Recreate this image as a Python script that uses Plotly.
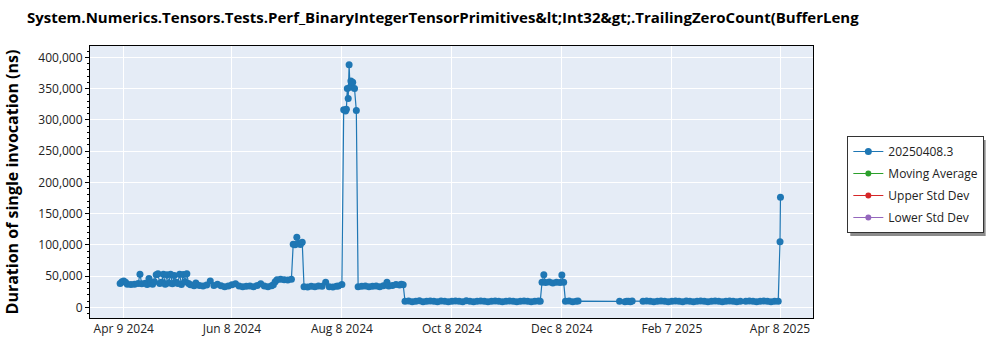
import plotly.graph_objects as go

TITLE = "System.Numerics.Tensors.Tests.Perf_BinaryIntegerTensorPrimitives&amp;lt;Int32&amp;gt;.TrailingZeroCount(BufferLeng"
Y_TITLE = "Duration of single invocation (ns)"
SERIES_NAME = "20250408.3"
EXTRA_SERIES = ["Moving Average", "Upper Std Dev", "Lower Std Dev"]

tick_dates = ["2024-04-09", "2024-06-08", "2024-08-08", "2024-10-08",
              "2024-12-08", "2025-02-07", "2025-04-08"]
tick_labels = ["Apr 9 2024", "Jun 8 2024", "Aug 8 2024", "Oct 8 2024",
               "Dec 8 2024", "Feb 7 2025", "Apr 8 2025"]

# Spring 2024
dates_spring = ["2024-04-07", "2024-04-08", "2024-04-09", "2024-04-10", "2024-04-11",
                "2024-04-13", "2024-04-15", "2024-04-17", "2024-04-18", "2024-04-19",
                "2024-04-21", "2024-04-22", "2024-04-23", "2024-04-24", "2024-04-25",
                "2024-04-26", "2024-04-27", "2024-04-28", "2024-04-29", "2024-04-30",
                "2024-05-01", "2024-05-02", "2024-05-03", "2024-05-04", "2024-05-05",
                "2024-05-06", "2024-05-07", "2024-05-08", "2024-05-09", "2024-05-10",
                "2024-05-11", "2024-05-12", "2024-05-13", "2024-05-14", "2024-05-15",
                "2024-05-16", "2024-05-18", "2024-05-19", "2024-05-21", "2024-05-23",
                "2024-05-25", "2024-05-27", "2024-05-29", "2024-05-31"]
values_spring = [38000, 41000, 42000, 40000, 37000,
                 36500, 37000, 38000, 53000, 37500,
                 38500, 36500, 46000, 39000, 37000,
                 41000, 52000, 53500, 38000, 40000,
                 53000, 37000, 52000, 39000, 53000,
                 37500, 51000, 40000, 38000, 53000,
                 36500, 52500, 41000, 53500, 38000,
                 36000, 34500, 39000, 35000, 34000,
                 35500, 42000, 35000, 37000]

# Summer 2024
dates_summer = ["2024-06-02", "2024-06-04", "2024-06-06", "2024-06-08", "2024-06-10",
                "2024-06-12", "2024-06-14", "2024-06-16", "2024-06-18", "2024-06-20",
                "2024-06-22", "2024-06-24", "2024-06-26", "2024-06-28", "2024-06-30",
                "2024-07-01", "2024-07-02", "2024-07-03", "2024-07-05", "2024-07-07",
                "2024-07-09", "2024-07-11", "2024-07-12", "2024-07-13", "2024-07-14",
                "2024-07-15", "2024-07-16", "2024-07-17", "2024-07-18", "2024-07-20",
                "2024-07-22", "2024-07-24", "2024-07-26", "2024-07-28", "2024-07-30",
                "2024-08-01", "2024-08-03", "2024-08-05", "2024-08-06", "2024-08-08",
                "2024-08-09", "2024-08-10", "2024-08-10 12:00", "2024-08-11",
                "2024-08-11 12:00", "2024-08-12", "2024-08-12 12:00", "2024-08-13",
                "2024-08-13 12:00", "2024-08-14", "2024-08-15", "2024-08-16",
                "2024-08-17", "2024-08-19", "2024-08-21", "2024-08-23", "2024-08-25",
                "2024-08-27", "2024-08-29", "2024-08-31", "2024-09-02", "2024-09-03",
                "2024-09-05", "2024-09-07", "2024-09-09", "2024-09-10", "2024-09-11"]
values_summer = [34500, 33000, 34000, 36000, 37500,
                 34000, 33000, 33500, 34000, 33000,
                 35000, 37500, 34000, 33000, 34500,
                 36000, 41000, 44000, 45000, 44000,
                 43500, 45000, 101000, 100000, 112000,
                 102000, 100500, 104000, 33000, 32500,
                 33500, 33000, 34000, 33500, 40000,
                 33000, 32500, 33500, 34000, 36500,
                 316000, 314000, 317000, 350000,
                 334000, 388000, 352000, 362000,
                 355000, 360000, 350000, 315000,
                 33000, 33500, 34000, 33000, 33500,
                 34000, 33000, 34500, 40000, 34000,
                 35000, 36500, 35500, 37000, 36000]

# Autumn 2024
dates_autumn = ["2024-09-12", "2024-09-14", "2024-09-16", "2024-09-18", "2024-09-20",
                "2024-09-22", "2024-09-24", "2024-09-26", "2024-09-28", "2024-09-30",
                "2024-10-02", "2024-10-04", "2024-10-06", "2024-10-08", "2024-10-10",
                "2024-10-12", "2024-10-14", "2024-10-16", "2024-10-18", "2024-10-20",
                "2024-10-22", "2024-10-24", "2024-10-26", "2024-10-28", "2024-10-30",
                "2024-11-01", "2024-11-03", "2024-11-05", "2024-11-07", "2024-11-09",
                "2024-11-11", "2024-11-13", "2024-11-15", "2024-11-17", "2024-11-19",
                "2024-11-21", "2024-11-23", "2024-11-25", "2024-11-26", "2024-11-27",
                "2024-11-28", "2024-11-29", "2024-12-01", "2024-12-03", "2024-12-05",
                "2024-12-07", "2024-12-08", "2024-12-09", "2024-12-10", "2024-12-12",
                "2024-12-14", "2024-12-16", "2024-12-17"]
values_autumn = [9500, 10000, 9000, 9500, 10500,
                 9000, 9500, 10000, 9500, 9000,
                 10000, 9500, 9000, 9500, 10000,
                 9500, 9000, 10500, 9500, 9000,
                 9500, 10000, 9500, 9000, 9500,
                 10000, 9500, 9000, 9500, 10000,
                 9500, 9000, 9500, 10000, 9500,
                 9000, 9500, 10000, 9500, 40000,
                 52000, 39500, 40500, 39000, 40000,
                 39500, 51500, 40000, 9500, 10000,
                 9000, 9500, 10000]

# Winter / spring 2025
dates_winter = ["2025-01-09", "2025-01-12", "2025-01-13", "2025-01-14", "2025-01-15",
                "2025-01-16", "2025-01-22", "2025-01-24", "2025-01-26", "2025-01-28",
                "2025-01-30", "2025-02-01", "2025-02-03", "2025-02-05", "2025-02-07",
                "2025-02-09", "2025-02-11", "2025-02-13", "2025-02-15", "2025-02-17",
                "2025-02-19", "2025-02-21", "2025-02-23", "2025-02-25", "2025-02-27",
                "2025-03-01", "2025-03-03", "2025-03-05", "2025-03-07", "2025-03-09",
                "2025-03-11", "2025-03-13", "2025-03-15", "2025-03-17", "2025-03-20",
                "2025-03-22", "2025-03-24", "2025-03-26", "2025-03-28", "2025-03-30",
                "2025-04-01", "2025-04-03", "2025-04-05", "2025-04-07", "2025-04-08",
                "2025-04-08 06:00"]
values_winter = [9500, 9000, 9800, 9500, 9000,
                 10000, 9500, 10000, 9500, 9000,
                 9500, 10000, 9500, 9000, 9500,
                 10000, 9500, 9000, 10000, 9500,
                 9000, 9500, 10000, 9500, 9000,
                 9500, 10000, 9500, 9000, 9500,
                 10000, 9500, 9000, 9500, 9500,
                 10000, 9500, 9000, 9500, 10000,
                 9500, 9000, 9500, 9600, 105000,
                 176000]

x_all = dates_spring + dates_summer + dates_autumn + dates_winter
y_all = values_spring + values_summer + values_autumn + values_winter

FONT = "Open Sans, Noto Sans, sans-serif"
colors = ["#1f77b4", "#2ca02c", "#d62728", "#9467bd"]

fig = go.Figure()
fig.add_trace(go.Scatter(
    x=x_all, y=y_all, mode="lines+markers", name=SERIES_NAME,
    line=dict(color=colors[0], width=1.2),
    marker=dict(color=colors[0], size=7),
    legendgroup="a",
))
for i, nm in enumerate(EXTRA_SERIES):
    fig.add_trace(go.Scatter(
        x=[None], y=[None], mode="lines+markers", name=nm,
        line=dict(color=colors[i + 1], width=1.2),
        marker=dict(color=colors[i + 1], size=6),
        legendgroup="g%d" % i, showlegend=True,
    ))


def px_x(p):
    return (p - 76) / 737.0


def px_y(p):
    return (318 - p) / 272.0


fig.update_layout(
    width=1000, height=350,
    margin=dict(l=76, r=187, t=46, b=32),
    paper_bgcolor="white",
    plot_bgcolor="#E5ECF6",
    font=dict(family=FONT, size=12, color="#222"),
    title=dict(text=TITLE, x=0.027, xanchor="left", xref="container",
               y=0.949, yanchor="middle", yref="container",
               font=dict(family=FONT, size=15, color="black", weight="bold")),
    showlegend=True,
    legend=dict(x=px_x(848), y=px_y(136), xanchor="left", yanchor="top",
                bgcolor="white", bordercolor="#333", borderwidth=1,
                font=dict(family=FONT, size=12, color="#222"),
                tracegroupgap=3),
    shapes=[dict(type="rect", xref="paper", yref="paper",
                 x0=px_x(851), x1=px_x(989), y0=px_y(236), y1=px_y(140),
                 fillcolor="rgba(0,0,0,0.45)", line=dict(width=0), layer="above")],
    xaxis=dict(
        type="date",
        range=["2024-03-21 07:00", "2025-04-26 07:00"],
        tickvals=tick_dates, ticktext=tick_labels,
        showgrid=True, gridcolor="white", gridwidth=1,
        showline=True, linecolor="black", linewidth=1, mirror=True,
        ticks="", zeroline=False,
    ),
    yaxis=dict(
        range=[-17120, 418080],
        dtick=50000, tick0=0, tickformat=",",
        showgrid=True, gridcolor="white", gridwidth=1,
        showline=True, linecolor="black", linewidth=1, mirror=True,
        ticks="outside", ticklen=4, tickcolor="black",
        minor=dict(dtick=10000, ticks="outside", ticklen=2, tickcolor="black", showgrid=False),
        zeroline=False,
        title=dict(text=Y_TITLE, font=dict(family=FONT, size=16, color="black", weight="bold")),
    ),
)

fig.write_html("out.html")
